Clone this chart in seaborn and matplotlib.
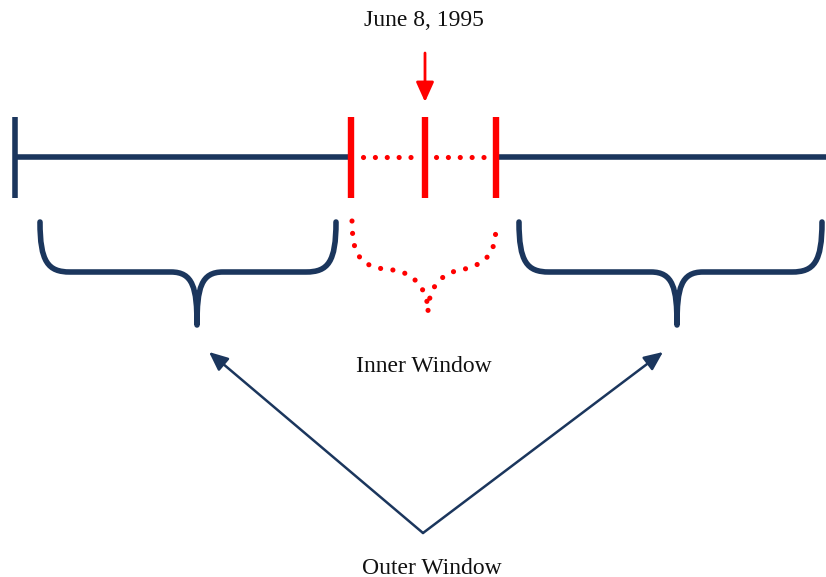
import matplotlib
matplotlib.use("Agg")
import matplotlib.pyplot as plt
from matplotlib.path import Path
from matplotlib.patches import PathPatch
import seaborn as sns
import pandas as pd

# ---- content ----
event_label = "June 8, 1995"
inner_label = "Inner Window"
outer_label = "Outer Window"

# timeline (pixel-like diagram units)
timeline_start = 15
timeline_end = 826
inner_start = 351
event_day = 425
inner_end = 496
outer_braces = [(40, 197, 336), (519, 677, 822)]   # left, tip, right

NAVY = "#1b365d"
RED = "#ff0000"

sns.set_theme(style="white")
plt.rcParams["font.family"] = ["Liberation Serif", "DejaVu Serif"]

fig = plt.figure(figsize=(8.26, 5.77), dpi=100)
ax = fig.add_axes([0, 0, 1, 1])

LINE_Y = 157
# navy outer segments
seg = pd.DataFrame({"x": [timeline_start, inner_start, inner_end, timeline_end],
                    "y": [LINE_Y] * 4,
                    "part": ["a", "a", "b", "b"]})
for p, g in seg.groupby("part"):
    sns.lineplot(data=g, x="x", y="y", ax=ax, color=NAVY, lw=4.0,
                 solid_capstyle="butt", sort=False)
ax.set_xlim(0, 826)
ax.set_ylim(577, 0)
ax.set_axis_off()

DOT = (0, (0.01, 2.3))
# red dotted inner segment (two runs of dots)
for a, b in [(363, 412), (436, 485)]:
    ax.plot([a, b], [LINE_Y, LINE_Y], color=RED, lw=3.7,
            linestyle=DOT, dash_capstyle="round")

# tick marks
ax.plot([timeline_start, timeline_start], [117, 198], color=NAVY, lw=4.0, solid_capstyle="butt")
for xv in [inner_start, event_day, inner_end]:
    ax.plot([xv, xv], [117, 198], color=RED, lw=4.6, solid_capstyle="butt")


def brace(x0, xm, x1, ytop=222, ymid=272, ybot=325):
    verts = [
        (x0, ytop),
        (x0, ytop + 40), (x0 + 8, ymid), (x0 + 30, ymid),
        (xm - 26, ymid),
        (xm - 4, ymid), (xm, ymid + 16), (xm, ybot),
        (xm, ymid + 16), (xm + 4, ymid), (xm + 26, ymid),
        (x1 - 30, ymid),
        (x1 - 8, ymid), (x1, ytop + 40), (x1, ytop),
    ]
    codes = [Path.MOVETO,
             Path.CURVE4, Path.CURVE4, Path.CURVE4,
             Path.LINETO,
             Path.CURVE4, Path.CURVE4, Path.CURVE4,
             Path.CURVE4, Path.CURVE4, Path.CURVE4,
             Path.LINETO,
             Path.CURVE4, Path.CURVE4, Path.CURVE4]
    return Path(verts, codes)


for x0, xm, x1 in outer_braces:
    ax.add_patch(PathPatch(brace(x0, xm, x1), facecolor="none", edgecolor=NAVY,
                           lw=4.0, capstyle="round", joinstyle="round"))

# red dotted inner brace
iv = [
    (352, 221),
    (352, 258), (362, 268), (393, 270),
    (415, 273), (428, 290), (428, 312),
    (428, 290), (440, 273), (460, 270),
    (490, 264), (496, 250), (496, 224),
]
ic = [Path.MOVETO] + [Path.CURVE4] * 12
ax.add_patch(PathPatch(Path(iv, ic), facecolor="none", edgecolor=RED, lw=3.7,
                       linestyle=(0, (0.01, 2.4)), capstyle="round"))

# arrows
ax.annotate("", xy=(event_day, 102), xytext=(event_day, 53),
            arrowprops=dict(arrowstyle="-|>,head_length=1.0,head_width=0.45",
                            color=RED, lw=2.0, shrinkA=0, shrinkB=0))
for tip in [(209, 352), (663, 352)]:
    ax.annotate("", xy=tip, xytext=(423, 533),
                arrowprops=dict(arrowstyle="-|>,head_length=0.95,head_width=0.42",
                                color=NAVY, lw=1.8, shrinkA=0, shrinkB=0))

# text
ax.text(424, 21, event_label, ha="center", va="center", fontsize=17, color="#111111")
ax.text(424, 366, inner_label, ha="center", va="center", fontsize=17, color="#111111")
ax.text(432, 568, outer_label, ha="center", va="center", fontsize=17, color="#111111")

fig.savefig("out.png", dpi=100, facecolor="white")
